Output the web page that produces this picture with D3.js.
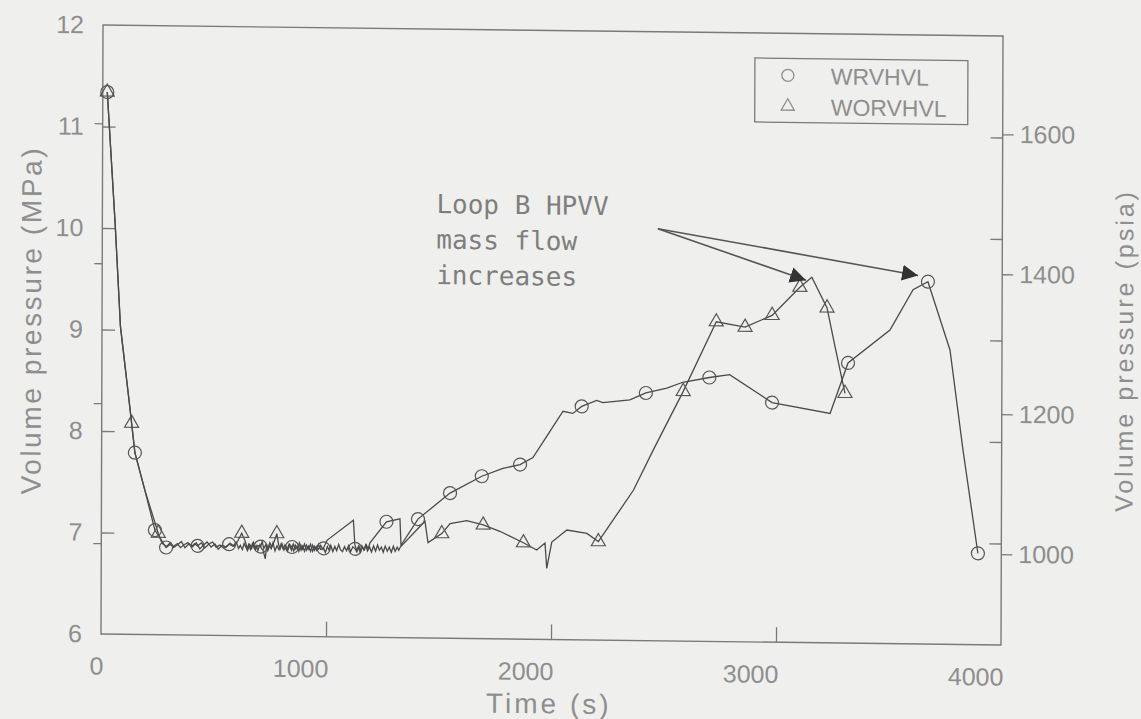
<!DOCTYPE html>
<html><head><meta charset="utf-8">
<script src="https://cdn.jsdelivr.net/npm/d3@7"></script>
<style>body{margin:0;background:#efefed;} svg{display:block;}</style>
</head><body><svg id="c" width="1141" height="719"></svg>
<script>
// ---- data ----
const timeTicks = [0, 1000, 2000, 3000, 4000];
const mpaTicks = [6, 7, 8, 9, 10, 11, 12];
const mpaInnerTicks = [7, 8, 9, 10, 11];
const psiTicks = [1000, 1200, 1400, 1600];
const seriesNames = ["WRVHVL", "WORVHVL"];

// WRVHVL pressure, MPa
const wrvT = [20, 57, 82, 122, 148, 193, 238, 288, 305, 320, 338, 352, 368, 385, 400, 414, 428, 445, 460, 478, 495, 510, 527, 545, 568, 585, 600, 610, 618, 627, 635, 643, 650, 660, 668, 677, 685, 695, 708, 715, 722, 731, 740, 748, 755, 763, 772, 781, 790, 799, 808, 816, 825, 835, 848, 855, 862, 871, 880, 888, 895, 903, 912, 921, 930, 939, 948, 957, 965, 975, 988, 996, 1005, 1013, 1020, 1029, 1038, 1046, 1055, 1063, 1072, 1081, 1090, 1099, 1108, 1118, 1128, 1136, 1145, 1152, 1160, 1169, 1178, 1186, 1194, 1267, 1327, 1332, 1407, 1549, 1690, 1784, 1860, 1917, 1978, 2050, 2094, 2133, 2200, 2227, 2347, 2418, 2511, 2582, 2700, 2790, 2979, 3237, 3316, 3502, 3604, 3670, 3769, 3828, 3896];
const wrvV = [11.34, 10.04, 9.03, 8.29, 7.79, 7.42, 7.03, 6.86, 6.89, 6.87, 6.90, 6.86, 6.89, 6.91, 6.87, 6.90, 6.88, 6.91, 6.86, 6.90, 6.92, 6.87, 6.89, 6.86, 6.90, 6.88, 6.92, 6.86, 6.89, 6.85, 6.91, 6.87, 6.84, 6.90, 6.86, 6.92, 6.85, 6.89, 6.88, 6.93, 6.86, 6.90, 6.84, 6.89, 6.86, 6.92, 6.84, 6.89, 6.85, 6.91, 6.86, 6.90, 6.85, 6.91, 6.88, 6.84, 6.90, 6.86, 6.92, 6.85, 6.89, 6.84, 6.90, 6.86, 6.91, 6.84, 6.89, 6.85, 6.91, 6.86, 6.87, 6.83, 6.89, 6.85, 6.90, 6.84, 6.89, 6.85, 6.91, 6.86, 6.84, 6.89, 6.85, 6.90, 6.84, 6.89, 6.87, 6.84, 6.90, 6.85, 6.89, 6.86, 6.91, 6.87, 6.93, 7.14, 7.17, 6.91, 7.17, 7.43, 7.60, 7.68, 7.72, 7.79, 8.00, 8.25, 8.23, 8.30, 8.36, 8.34, 8.37, 8.44, 8.49, 8.55, 8.60, 8.63, 8.36, 8.26, 8.76, 9.09, 9.49, 9.57, 8.90, 7.92, 6.90];
const wrvMarkT = [20, 148, 238, 288, 428, 568, 708, 848, 988, 1128, 1267, 1407, 1549, 1690, 1860, 2133, 2418, 2700, 2979, 3316, 3670, 3896];
const wrvMarkV = [11.34, 7.79, 7.03, 6.86, 6.88, 6.90, 6.88, 6.88, 6.87, 6.87, 7.14, 7.17, 7.43, 7.60, 7.72, 8.30, 8.44, 8.60, 8.36, 8.76, 9.57, 6.90];

// WORVHVL pressure, MPa
const worT = [20, 57, 82, 122, 133, 148, 193, 253, 270, 290, 308, 322, 340, 356, 372, 390, 405, 422, 438, 455, 470, 488, 505, 520, 538, 555, 572, 590, 606, 624, 640, 648, 655, 663, 672, 680, 688, 696, 705, 712, 718, 729, 735, 740, 749, 758, 768, 780, 788, 795, 803, 812, 820, 828, 837, 845, 853, 862, 870, 878, 887, 895, 903, 912, 921, 930, 939, 948, 956, 965, 975, 985, 1003, 1120, 1127, 1135, 1142, 1150, 1158, 1166, 1175, 1183, 1192, 1201, 1210, 1219, 1228, 1236, 1245, 1253, 1262, 1271, 1280, 1289, 1298, 1306, 1315, 1322, 1328, 1438, 1452, 1513, 1550, 1624, 1697, 1771, 1876, 1935, 1972, 1980, 2002, 2069, 2158, 2209, 2364, 2452, 2584, 2730, 2858, 2978, 3101, 3154, 3222, 3258, 3303];
const worV = [11.34, 10.04, 9.03, 8.29, 8.08, 7.79, 7.42, 7.00, 6.90, 6.87, 6.91, 6.86, 6.89, 6.92, 6.86, 6.90, 6.87, 6.91, 6.85, 6.89, 6.92, 6.87, 6.90, 6.85, 6.89, 6.87, 6.91, 6.88, 6.93, 7.01, 6.93, 6.86, 6.90, 6.85, 6.91, 6.86, 6.89, 6.84, 6.90, 6.86, 6.85, 6.76, 6.90, 6.86, 6.92, 6.88, 6.93, 7.01, 6.90, 6.86, 6.91, 6.85, 6.89, 6.84, 6.90, 6.85, 6.91, 6.86, 6.89, 6.84, 6.90, 6.86, 6.91, 6.85, 6.89, 6.84, 6.90, 6.85, 6.89, 6.86, 6.90, 6.86, 6.95, 7.15, 6.91, 6.85, 6.89, 6.84, 6.90, 6.86, 6.91, 6.85, 6.89, 6.84, 6.90, 6.85, 6.91, 6.86, 6.89, 6.84, 6.90, 6.85, 6.89, 6.84, 6.90, 6.85, 6.89, 6.86, 6.89, 7.15, 6.94, 7.03, 7.13, 7.16, 7.12, 7.06, 6.95, 6.88, 6.95, 6.70, 6.96, 7.08, 7.05, 6.97, 7.48, 7.88, 8.46, 9.15, 9.10, 9.22, 9.50, 9.60, 9.30, 8.92, 8.46];
const worMarkT = [20, 133, 253, 624, 780, 1513, 1697, 1876, 2209, 2584, 2730, 2858, 2978, 3101, 3222, 3303];
const worMarkV = [11.34, 8.08, 7.00, 7.01, 7.01, 7.03, 7.12, 6.95, 6.97, 8.46, 9.15, 9.10, 9.22, 9.50, 9.30, 8.46];

// annotation
const noteLines = ["Loop B HPVV", "mass flow", "increases"];
const noteFrom = [2469, 10.06];
const noteTips = [[3128, 9.57], [3626, 9.63]];
const PSI_PER_MPA = 145.038;

// ---- drawing ----
const ink = "#4a4a4a", grey = "#8e8e8e", frameC = "#7a7a7a";
const svg = d3.select("#c");
svg.append("rect").attr("width", 1141).attr("height", 719).attr("fill", "#efefed");
// slight skew like the scanned page
const g = svg.append("g").attr("transform", "matrix(1,0.0122,-0.0033,1,2.09,-1.23)");

const x = d3.scaleLinear().domain([0, 4000]).range([101, 1001]);
const y = d3.scaleLinear().domain([6, 12]).range([634, 25]);
const yP = d3.scaleLinear().domain([6 * PSI_PER_MPA, 12 * PSI_PER_MPA]).range([634, 25]);

const font = "'Liberation Sans', Arial, sans-serif";

// frame
g.append("rect").attr("x", x(0)).attr("y", y(12)).attr("width", x(4000) - x(0)).attr("height", y(6) - y(12))
  .attr("fill", "none").attr("stroke", frameC).attr("stroke-width", 1.4);

function styleAxis(sel) {
  sel.select(".domain").remove();
  sel.selectAll(".tick line").attr("stroke", frameC).attr("stroke-width", 1.3);
  sel.selectAll(".tick text").attr("fill", grey).attr("font-family", font).attr("font-size", 25);
}
// left: MPa labels, inward ticks
g.append("g").attr("transform", `translate(${x(0)},0)`)
  .call(d3.axisLeft(y).tickValues(mpaTicks).tickSize(0).tickPadding(19).tickFormat(d3.format("d")))
  .call(styleAxis);
g.append("g").attr("transform", `translate(${x(0)},0)`)
  .call(d3.axisLeft(y).tickValues(mpaInnerTicks).tickSize(-13).tickFormat(""))
  .call(styleAxis);
// left: psi outward ticks
g.append("g").attr("transform", `translate(${x(0)},0)`)
  .call(d3.axisLeft(yP).tickValues(psiTicks).tickSize(8).tickFormat(""))
  .call(styleAxis);
// right: psi labels outward
g.append("g").attr("transform", `translate(${x(4000)},0)`)
  .call(d3.axisRight(yP).tickValues(psiTicks).tickSize(11).tickPadding(6).tickFormat(d3.format("d")))
  .call(styleAxis);
g.append("g").attr("transform", `translate(${x(4000)},0)`)
  .call(d3.axisRight(y).tickValues(mpaInnerTicks).tickSize(-12).tickFormat(""))
  .call(styleAxis);
// bottom
const bx = g.append("g").attr("transform", `translate(0,${y(6)})`)
  .call(d3.axisBottom(x).tickValues(timeTicks).tickSizeInner(-15).tickSizeOuter(0).tickPadding(23).tickFormat(d3.format("d")))
  .call(styleAxis);
bx.selectAll(".tick text").attr("text-anchor", "end").attr("dx", 2);
bx.selectAll(".tick").filter(d => d === 0 || d === 4000).select("line").remove();

// axis titles
g.append("text").attr("transform", `translate(40,321) rotate(-90)`)
  .attr("text-anchor", "middle").attr("font-family", font).attr("font-size", 28).attr("letter-spacing", 2.6)
  .attr("fill", grey).text("Volume pressure (MPa)");
g.append("text").attr("transform", `translate(1132,338) rotate(-90)`)
  .attr("text-anchor", "middle").attr("font-family", font).attr("font-size", 25).attr("letter-spacing", 3)
  .attr("fill", grey).text("Volume pressure (psia)");
g.append("text").attr("x", (x(0) + x(4000)) / 2 - 2).attr("y", 708)
  .attr("text-anchor", "middle").attr("font-family", font).attr("font-size", 28).attr("letter-spacing", 3)
  .attr("fill", grey).text("Time (s)");

// lines
const line = d3.line().x(d => x(d[0])).y(d => y(d[1])).curve(d3.curveLinear);
const wrv = wrvT.map((t, i) => [t, wrvV[i]]);
const wor = worT.map((t, i) => [t, worV[i]]);
g.append("path").datum(wor).attr("d", line).attr("fill", "none").attr("stroke", ink).attr("stroke-width", 1.3);
g.append("path").datum(wrv).attr("d", line).attr("fill", "none").attr("stroke", ink).attr("stroke-width", 1.3);

// markers
const tri = d3.symbol().type(d3.symbolTriangle).size(85);
g.selectAll(".mw").data(wrvMarkT.map((t, i) => [t, wrvMarkV[i]])).join("circle")
  .attr("cx", d => x(d[0])).attr("cy", d => y(d[1])).attr("r", 6.5)
  .attr("fill", "none").attr("stroke", "#555").attr("stroke-width", 1.2);
g.selectAll(".mo").data(worMarkT.map((t, i) => [t, worMarkV[i]])).join("path")
  .attr("d", tri).attr("transform", d => `translate(${x(d[0])},${y(d[1])})`)
  .attr("fill", "none").attr("stroke", "#555").attr("stroke-width", 1.2);

// legend
const lg = g.append("g");
lg.append("rect").attr("x", 753).attr("y", 50).attr("width", 213).attr("height", 64)
  .attr("fill", "none").attr("stroke", frameC).attr("stroke-width", 1.3);
seriesNames.forEach((n, i) => {
  const yy = 67 + i * 31;
  if (i === 0) lg.append("circle").attr("cx", 786).attr("cy", yy).attr("r", 6).attr("fill", "none").attr("stroke", grey).attr("stroke-width", 1.3);
  else lg.append("path").attr("d", d3.symbol().type(d3.symbolTriangle).size(75)).attr("transform", `translate(786,${yy})`).attr("fill", "none").attr("stroke", grey).attr("stroke-width", 1.3);
  lg.append("text").attr("x", 829).attr("y", yy + 8.5).attr("font-family", font).attr("font-size", 23).attr("fill", grey).text(n);
});

// annotation
const defs = svg.append("defs");
defs.append("marker").attr("id", "ah").attr("viewBox", "0 0 10 10").attr("refX", 10).attr("refY", 5)
  .attr("markerWidth", 16).attr("markerHeight", 16).attr("markerUnits", "userSpaceOnUse").attr("orient", "auto")
  .append("path").attr("d", "M0,0L10,5L0,10z").attr("fill", "#333");
noteTips.forEach(tp => {
  g.append("line").attr("x1", x(noteFrom[0])).attr("y1", y(noteFrom[1])).attr("x2", x(tp[0])).attr("y2", y(tp[1]))
    .attr("stroke", "#555").attr("stroke-width", 1.6).attr("marker-end", "url(#ah)");
});
noteLines.forEach((s, i) => {
  g.append("text").attr("x", 435).attr("y", 209 + i * 35.5).attr("font-family", "'DejaVu Sans Mono', monospace")
    .attr("font-size", 26).attr("fill", "#7e7e7e").style("white-space", "pre").text(s);
});
</script></body></html>
